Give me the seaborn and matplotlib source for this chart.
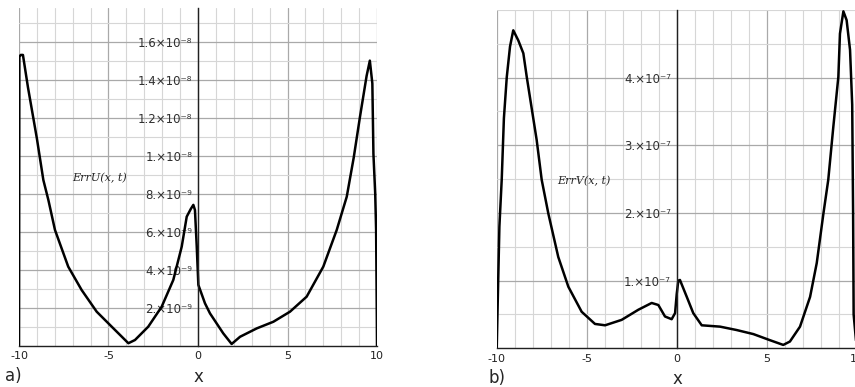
import numpy as np
import pandas as pd
import matplotlib
matplotlib.use("Agg")
import matplotlib.pyplot as plt
import seaborn as sns
from matplotlib.ticker import MultipleLocator, FixedLocator, FixedFormatter

# ---------------- data ----------------
ua_x = [-10, -9.98, -9.9, -9.78, -9.5, -9.0, -8.64, -8.36, -7.99, -7.25, -6.5,
        -5.66, -4.82, -3.89, -3.52, -2.78, -2.03, -1.38, -0.91, -0.63, -0.4,
        -0.26, -0.17, -0.07, 0.02, 0.39, 0.67, 1.41, 1.88, 2.35, 3.28, 4.21,
        5.14, 6.07, 7.0, 7.75, 8.31, 8.7, 9.05, 9.42, 9.6, 9.74, 9.8, 9.9,
        9.95, 9.99, 10.0]
ua_y = [0, 15.2, 15.3, 15.3, 13.6, 10.9, 8.72, 7.67, 6.09, 4.16, 2.93,
        1.79, 1.0, 0.13, 0.3, 1.0, 2.05, 3.46, 5.21, 6.79, 7.2,
        7.41, 7.14, 5.21, 3.2, 2.23, 1.7, 0.65, 0.09, 0.47, 0.91, 1.26,
        1.79, 2.58, 4.16, 6.09, 7.84, 9.9, 12.05, 14.2, 15.0, 13.8, 10.1, 8.0,
        6.1, 1.5, 0]
ua_scale = 1e-9

vb_x = [-10, -9.9, -9.85, -9.72, -9.6, -9.44, -9.26, -9.08, -8.8, -8.52, -8.33,
        -7.78, -7.5, -7.13, -6.58, -6.02, -5.28, -4.54, -3.98, -3.06, -2.13,
        -1.39, -1.02, -0.65, -0.28, -0.09, 0.0, 0.09, 0.18, 0.56, 0.92, 1.39,
        2.41, 3.33, 4.26, 5.18, 5.92, 6.29, 6.85, 7.41, 7.78, 8.15, 8.42, 8.7,
        8.98, 9.07, 9.26, 9.44, 9.63, 9.75, 9.8, 9.83, 10.0]
vb_y = [0, 1.2, 1.8, 2.5, 3.4, 4.01, 4.46, 4.70, 4.55, 4.36, 4.01,
        3.08, 2.49, 1.99, 1.35, 0.91, 0.54, 0.36, 0.34, 0.42, 0.57,
        0.67, 0.64, 0.47, 0.43, 0.52, 0.8, 1.0, 1.01, 0.76, 0.52, 0.34,
        0.32, 0.27, 0.21, 0.12, 0.05, 0.10, 0.32, 0.76, 1.26, 1.99, 2.49, 3.27,
        4.01, 4.65, 4.98, 4.85, 4.41, 3.6, 2.0, 0.5, 0.0]
vb_scale = 1e-7

xticks = [-10, -5, 0, 5, 10]
xticklabels = ["-10", "-5", "0", "5", "10"]
ua_ticks = [2e-9, 4e-9, 6e-9, 8e-9, 1e-8, 1.2e-8, 1.4e-8, 1.6e-8]
ua_ticklabels = ["2.×10⁻⁹", "4.×10⁻⁹", "6.×10⁻⁹", "8.×10⁻⁹",
                 "1.×10⁻⁸", "1.2×10⁻⁸", "1.4×10⁻⁸", "1.6×10⁻⁸"]
vb_ticks = [1e-7, 2e-7, 3e-7, 4e-7]
vb_ticklabels = ["1.×10⁻⁷", "2.×10⁻⁷", "3.×10⁻⁷", "4.×10⁻⁷"]

# ---------------- figure ----------------
sns.set_style("white")
plt.rcParams['font.family'] = ['DejaVu Sans']
fig = plt.figure(figsize=(8.55, 3.87), dpi=100)
W, H = 855.0, 387.0

def add_ax(l, r, b, t):
    return fig.add_axes([l / W, 1 - b / H, (r - l) / W, (b - t) / H])

ax1 = add_ax(19, 377, 345.7, 8)
ax2 = add_ax(496.7, 856.7, 348.3, 10)

df_a = pd.DataFrame({"x": ua_x, "y": np.array(ua_y) * ua_scale})
df_b = pd.DataFrame({"x": vb_x, "y": np.array(vb_y) * vb_scale})

sns.lineplot(data=df_a, x="x", y="y", ax=ax1, color="black", lw=1.8,
             sort=False, estimator=None)
sns.lineplot(data=df_b, x="x", y="y", ax=ax2, color="black", lw=1.8,
             sort=False, estimator=None)

def style(ax, ymax, yminor, ticks, labels):
    ax.set_xlim(-10, 10)
    ax.set_ylim(0, ymax)
    ax.set_xlabel("")
    ax.set_ylabel("")
    ax.set_facecolor("white")
    ax.xaxis.set_minor_locator(MultipleLocator(1))
    ax.yaxis.set_minor_locator(MultipleLocator(yminor))
    ax.set_xticks(xticks)
    ax.set_xticklabels(xticklabels)
    ax.yaxis.set_major_locator(FixedLocator(ticks))
    ax.yaxis.set_major_formatter(FixedFormatter(labels))
    ax.grid(which="minor", color="#d6d6d6", lw=0.8)
    ax.grid(which="major", color="#a9a9a9", lw=0.9)
    ax.set_axisbelow(True)
    ax.spines['left'].set_position(('data', 0))
    ax.spines['left'].set_color("#202020")
    ax.spines['left'].set_linewidth(1.0)
    ax.spines['right'].set_visible(False)
    ax.spines['top'].set_visible(False)
    ax.spines['bottom'].set_color("#202020")
    ax.spines['bottom'].set_linewidth(1.0)
    ax.tick_params(axis="x", which="major", direction="inout", length=4,
                   width=0.8, labelsize=8, pad=2, colors="#202020")
    ax.tick_params(axis="x", which="minor", direction="inout", length=3,
                   width=0.8, colors="#202020")
    ax.tick_params(axis="y", which="major", direction="inout", length=4,
                   width=0.8, labelsize=8.5, pad=2, colors="#202020")
    ax.tick_params(axis="y", which="minor", direction="inout", length=3,
                   width=0.8, colors="#202020")

style(ax1, 1.777e-8, 1e-9, ua_ticks, ua_ticklabels)
style(ax2, 5.0e-7, 0.5e-7, vb_ticks, vb_ticklabels)

for lab in ax1.get_yticklabels() + ax2.get_yticklabels():
    lab.set_color("#303030")

ax1.text(-5.5, 8.8e-9, "ErrU(x, t)", fontsize=8, style="italic",
         family="DejaVu Serif", ha="center", va="center")
ax2.text(-5.15, 2.47e-7, "ErrV(x, t)", fontsize=8, style="italic",
         family="DejaVu Serif", ha="center", va="center")

fig.text(5 / W, 1 - 376 / H, "a)", fontsize=12, va="center", ha="left")
fig.text(198 / W, 1 - 377 / H, "x", fontsize=12, va="center", ha="center")
fig.text(488 / W, 1 - 378 / H, "b)", fontsize=12, va="center", ha="left")
fig.text(677 / W, 1 - 379 / H, "x", fontsize=12, va="center", ha="center")

fig.savefig("out.png", dpi=100)
